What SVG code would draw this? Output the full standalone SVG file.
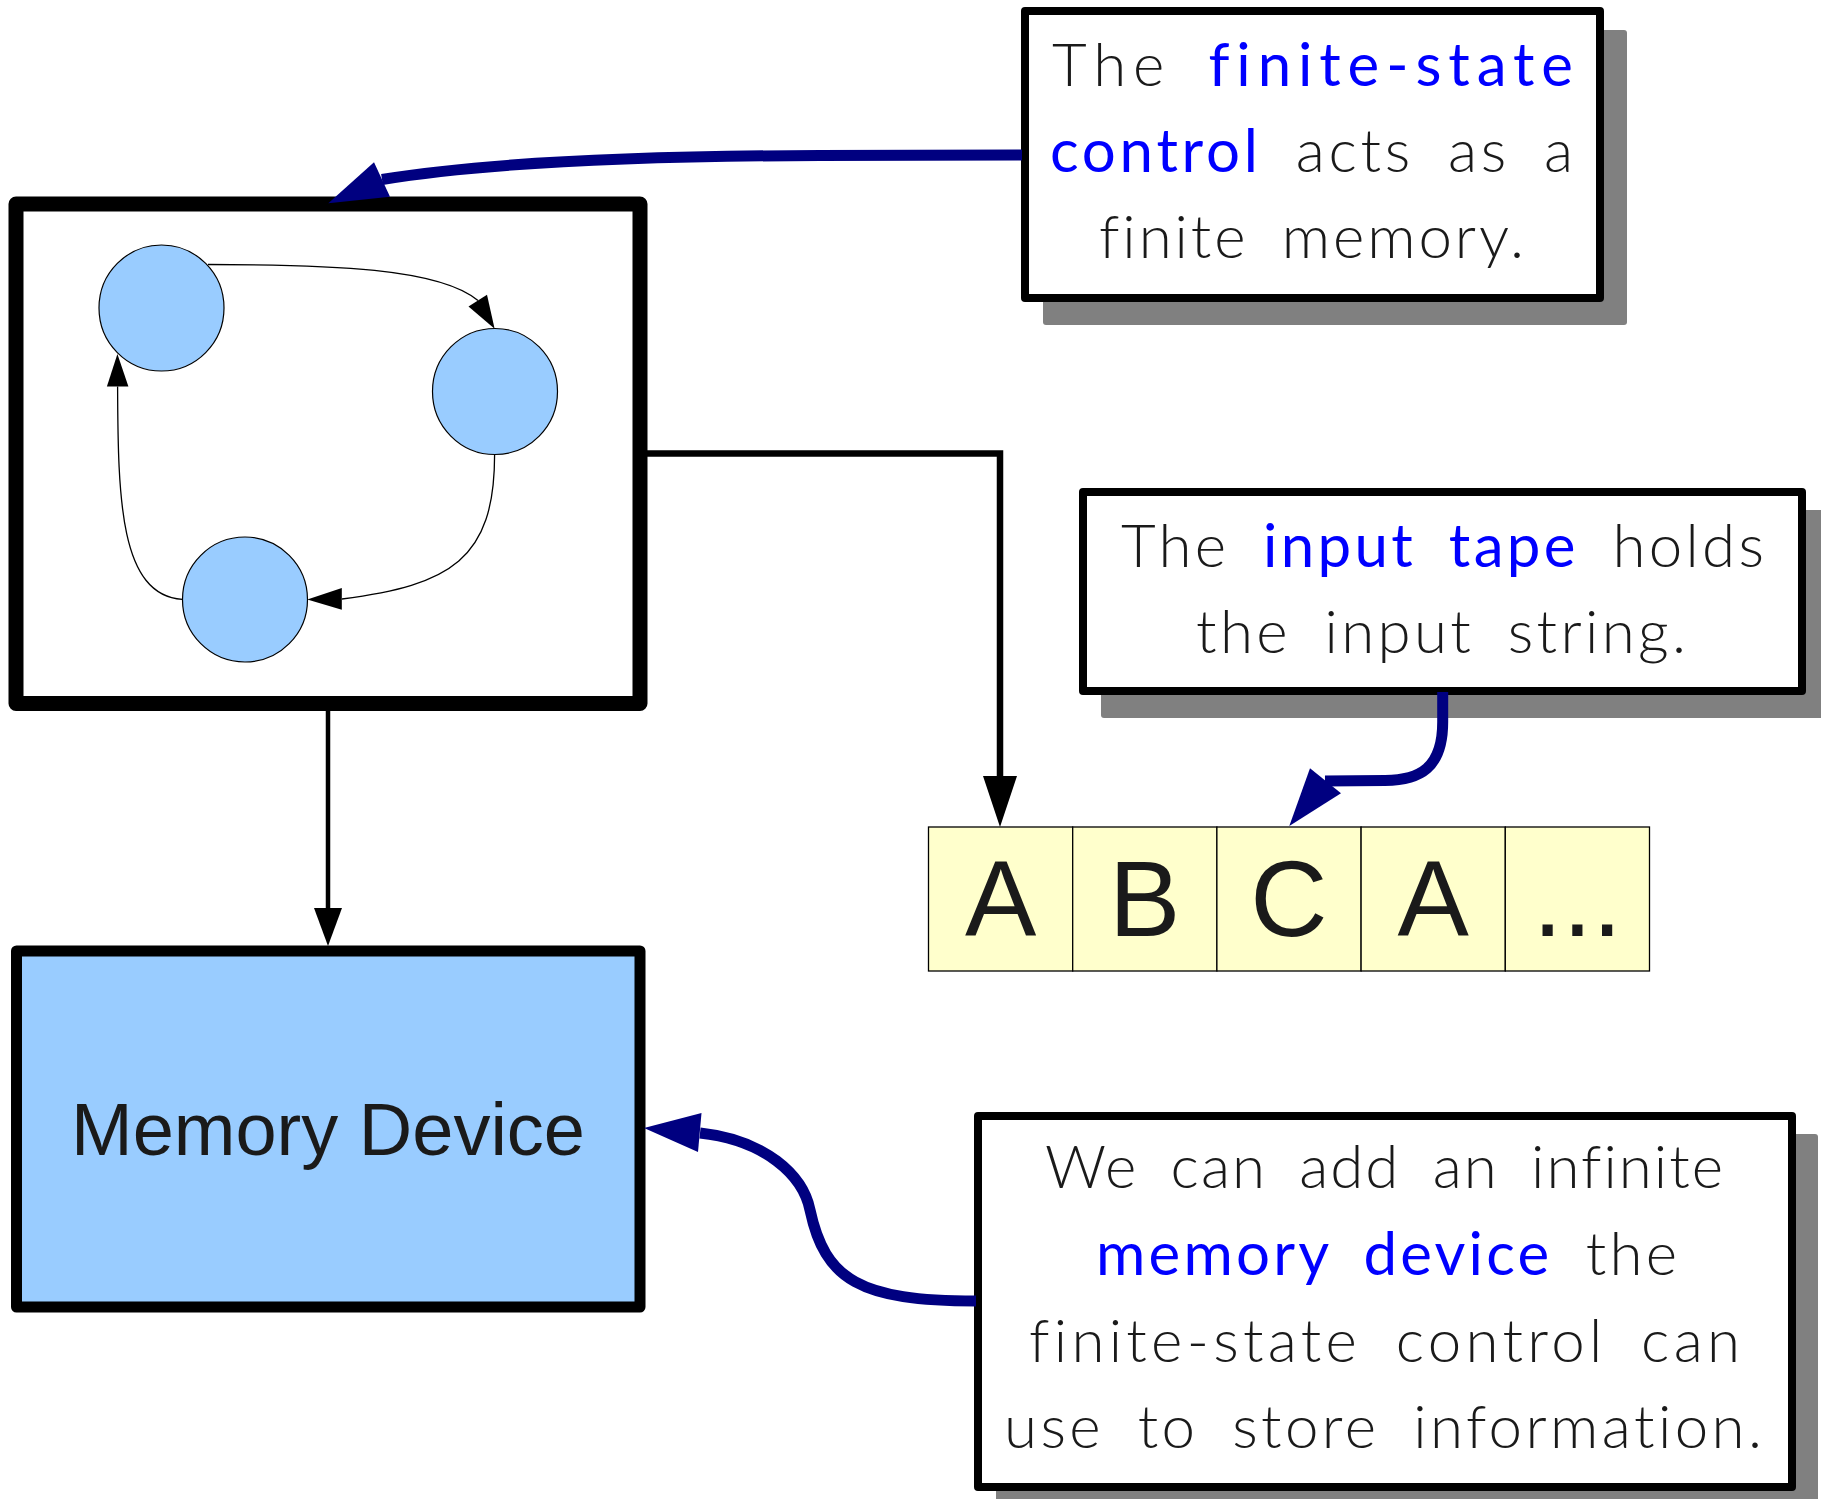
<svg xmlns="http://www.w3.org/2000/svg" width="1821" height="1499" viewBox="0 0 1821 1499">
  <style>
    .box { fill: #ffffff; stroke: #000000; stroke-linejoin: round; }
    .shadow { fill: #808080; }
    .state { fill: #99ccff; stroke: #000000; stroke-width: 1.2; }
    .edge { fill: none; stroke: #000000; stroke-width: 1.3; }
    .head { fill: #000000; }
    .note-link { fill: none; stroke: #000080; stroke-width: 11; }
    .note-head { fill: #000080; }
    .hand { font-family: Lato, "Open Sans", "Liberation Sans", sans-serif; font-weight: 300; font-size: 60px; fill: #1a1a1a; text-anchor: middle; word-spacing: 14px; font-variant-ligatures: none; font-feature-settings: "liga" 0; }
    .hi { fill: #0000ff; font-weight: 400; }
    .cell { fill: #ffffcc; stroke: #000000; stroke-width: 1.3; }
    .sym { font-family: "Liberation Sans", Arial, sans-serif; font-size: 107px; fill: #1a1a1a; text-anchor: middle; }
  </style>

  <!-- finite-state control with its three states -->
  <g id="control">
    <rect class="box" x="16" y="204" width="624" height="499.5" stroke-width="15"/>
    <g id="state-1"><ellipse class="state" cx="161.5" cy="308" rx="62.5" ry="63"/></g>
    <g id="state-2"><ellipse class="state" cx="495" cy="391.5" rx="62.5" ry="63"/></g>
    <g id="state-3"><ellipse class="state" cx="245" cy="599.5" rx="62.5" ry="62.5"/></g>
    <g id="transitions">
      <path class="edge" d="M208,264.5 C330,264.5 440,268 478,300.6"/>
      <polygon class="head" points="494.6,328.8 468.5,306.6 487,294.7"/>
      <path class="edge" d="M494.6,454.4 C494.6,560 450,585 342,599"/>
      <polygon class="head" points="307.3,599.4 341.8,588 341.8,609.8"/>
      <path class="edge" d="M182.3,599.4 C120,595 118,500 117.6,386.6"/>
      <polygon class="head" points="117.4,353.9 106.9,386.6 128.4,386.6"/>
    </g>
  </g>

  <!-- memory device -->
  <g id="memory-device">
    <rect x="16.5" y="951" width="623.5" height="356" fill="#99ccff" stroke="#000000" stroke-width="11" stroke-linejoin="round"/>
    <text x="328" y="1155" font-family="'Liberation Sans', Arial, sans-serif" font-size="74" fill="#1a1a1a" text-anchor="middle">Memory Device</text>
  </g>

  <!-- input tape -->
  <g id="input-tape">
    <rect class="cell" x="928.5" y="827" width="144.2" height="144"/>
    <rect class="cell" x="1072.7" y="827" width="144.2" height="144"/>
    <rect class="cell" x="1216.9" y="827" width="144.2" height="144"/>
    <rect class="cell" x="1361.1" y="827" width="144.2" height="144"/>
    <rect class="cell" x="1505.3" y="827" width="144.2" height="144"/>
    <text class="sym" x="1000.6" y="936">A</text>
    <text class="sym" x="1144.8" y="936">B</text>
    <text class="sym" x="1289" y="936">C</text>
    <text class="sym" x="1433.2" y="936">A</text>
    <text class="sym" x="1577.4" y="936">...</text>
  </g>

  <!-- note: finite-state control -->
  <g id="note-control">
    <rect class="shadow" x="1043" y="30" width="584" height="295" rx="3"/>
    <rect class="box" x="1025" y="11" width="575" height="287" stroke-width="8"/>
    <text class="hand" x="1312.5" y="86" textLength="521" lengthAdjust="spacing">The <tspan class="hi">finite-state</tspan></text>
    <text class="hand" x="1311.5" y="172" textLength="523" lengthAdjust="spacing"><tspan class="hi">control</tspan> acts as a</text>
    <text class="hand" x="1311.5" y="258" textLength="425" lengthAdjust="spacing">finite memory.</text>
  </g>

  <!-- note: input tape -->
  <g id="note-tape">
    <rect class="shadow" x="1101" y="510" width="727" height="208" rx="3"/>
    <rect class="box" x="1083" y="492" width="719" height="199" stroke-width="8"/>
    <text class="hand" x="1442.5" y="567" textLength="643" lengthAdjust="spacing">The <tspan class="hi">input tape</tspan> holds</text>
    <text class="hand" x="1441" y="653" textLength="490" lengthAdjust="spacing">the input string.</text>
  </g>

  <!-- note: memory device -->
  <g id="note-memory">
    <rect class="shadow" x="996" y="1134" width="822" height="379" rx="3"/>
    <rect class="box" x="978" y="1116" width="814" height="371" stroke-width="8"/>
    <text class="hand" x="1384" y="1188" textLength="678" lengthAdjust="spacing">We can add an infinite</text>
    <text class="hand" x="1386.5" y="1275" textLength="581" lengthAdjust="spacing"><tspan class="hi">memory device</tspan> the</text>
    <text class="hand" x="1384.5" y="1362" textLength="711" lengthAdjust="spacing">finite-state control can</text>
    <text class="hand" x="1383" y="1448" textLength="758" lengthAdjust="spacing">use to store information.</text>
  </g>

  <!-- connectors -->
  <g id="connectors">
    <path d="M647,453.5 H1000 V778" fill="none" stroke="#000000" stroke-width="6.5"/>
    <polygon class="head" points="983,776 1017,776 1000,827"/>
    <path d="M328,711 V910" fill="none" stroke="#000000" stroke-width="4.5"/>
    <polygon class="head" points="314,908 342,908 328,946"/>
    <path class="note-link" d="M1022,155 L820,155.5 C620,156 470,165 382,179.5"/>
    <polygon class="note-head" points="328.3,203.3 374,162.3 390,196.7"/>
    <path class="note-link" d="M1442.7,692 V722 C1442.7,768 1420,780 1385,780.5 L1325,781"/>
    <polygon class="note-head" points="1289.3,826 1310,768.3 1341,793.3"/>
    <path class="note-link" d="M976,1301 C860,1301 825,1280 810,1210 C803,1175 765,1140 700,1133"/>
    <polygon class="note-head" points="644,1128 701.5,1113 698,1152"/>
  </g>
</svg>
